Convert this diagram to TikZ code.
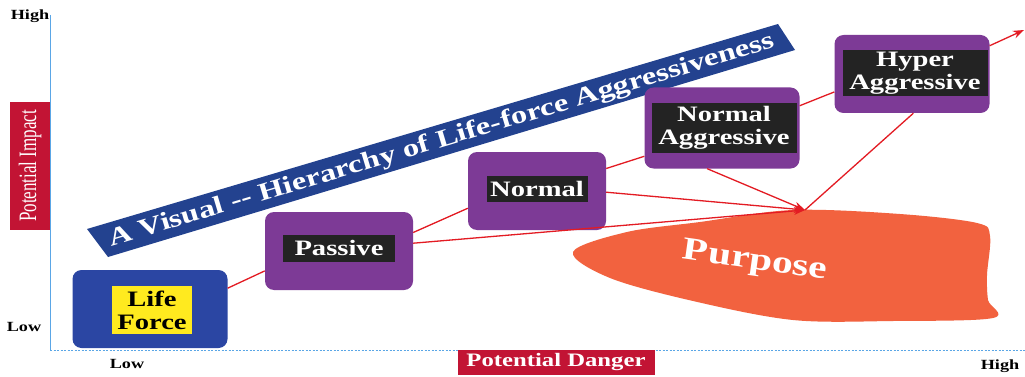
\documentclass[tikz,border=0pt]{standalone}
\usepackage{fontspec}
\setmainfont{Liberation Serif}
\newfontfamily\wf[FakeStretch=1.3]{Liberation Serif}
\newfontfamily\nf[FakeStretch=0.68]{Liberation Serif}
\usetikzlibrary{arrows.meta}
\definecolor{purp}{HTML}{7D3A96}
\definecolor{lfblue}{HTML}{2B46A3}
\definecolor{lfyellow}{HTML}{FFEA1F}
\definecolor{lblk}{HTML}{232323}
\definecolor{bannerblue}{HTML}{23428F}
\definecolor{crim}{HTML}{C21434}
\definecolor{linered}{HTML}{E31B23}
\definecolor{blobred}{HTML}{F2623F}
\definecolor{axisblue}{HTML}{5AA6E6}
\tikzset{
  outerbox/.style={fill=purp, rounded corners=9pt, inner sep=0pt},
  lifebox/.style={fill=lfblue, rounded corners=9pt, inner sep=0pt},
  innerlbl/.style={fill=lblk, text=white, align=center, inner sep=0pt,
    font=\wf\bfseries\fontsize{22}{23}\selectfont},
  conn/.style={draw=linered, line width=1.3pt},
  arr/.style={conn, -{Stealth[length=11pt,width=8pt]}},
  axlbl/.style={inner sep=0pt, font=\wf\bfseries\fontsize{14}{14}\selectfont},
}
\begin{document}
\begin{tikzpicture}[x=1pt,y=-1pt]
\useasboundingbox[fill=white] (0,0) rectangle (1025,377);
% axes
\draw[axisblue, line width=0.9pt] (50,15) -- (50,350);
\draw[axisblue, line width=0.9pt, dash pattern=on 2pt off 1.5pt] (50,350) -- (1025,350);
\node[axlbl] (hightop) at (30,16) {High};
\node[axlbl] (lowleft) at (24,327) {Low};
\node[axlbl] (lowbot) at (127,364) {Low};
\node[axlbl] (highbot) at (1000,366) {High};
\node[fill=crim, text=white, rotate=90, minimum width=128pt, minimum height=40pt, inner sep=0pt,
  font=\nf\fontsize{25}{25}\selectfont] (pimpact) at (30,166) {Potential Impact};
\node[fill=crim, text=white, minimum width=197pt, minimum height=25pt, inner sep=0pt,
  font=\wf\bfseries\fontsize{19}{19}\selectfont] (pdanger) at (556,362) {Potential Danger};
% banner
\fill[bannerblue] (87,229) -- (108,257) -- (795,50) -- (778,24) -- cycle;
\node[text=white, rotate=16.7, inner sep=0pt, font=\wf\bfseries\fontsize{25}{25}\selectfont]
  (title) at (442,141) {A Visual -{}- Hierarchy of Life-force Aggressiveness};
% purpose blob
\fill[blobred] plot[smooth cycle, tension=0.55] coordinates {
  (573,252) (627,232) (700,222) (793,210) (900,214) (977,223) (990,236)
  (987,275) (988,300) (993,318) (893,321) (793,320) (693,301) (610,278)};
\node[text=white, rotate=-8, inner sep=0pt, font=\wf\bfseries\fontsize{32}{32}\selectfont]
  (purpose) at (755,262) {Purpose};
% boxes
\node[lifebox, minimum width=155pt, minimum height=78pt] (lfO) at (150,309) {};
\node[fill=lfyellow, text=black, align=center, inner sep=0pt, minimum width=80pt, minimum height=48pt,
  font=\wf\bfseries\fontsize{22}{23}\selectfont] (lf) at (152,310) {Life\\Force};
\node[outerbox, minimum width=148pt, minimum height=78pt] (psO) at (339,251) {};
\node[innerlbl, minimum width=112pt, minimum height=27pt] (ps) at (339,248) {Passive};
\node[outerbox, minimum width=138pt, minimum height=78pt] (nmO) at (537,191) {};
\node[innerlbl, minimum width=101pt, minimum height=26pt] (nm) at (537,189) {Normal};
\node[outerbox, minimum width=155pt, minimum height=81pt] (naO) at (722,128) {};
\node[innerlbl, minimum width=145pt, minimum height=49pt] (na) at (724,128) {Normal\\Aggressive};
\node[outerbox, minimum width=155pt, minimum height=78pt] (hyO) at (912,74) {};
\node[innerlbl, minimum width=145pt, minimum height=46pt] (hy) at (915,73) {Hyper\\Aggressive};
% connectors
\coordinate (pt) at (805,210);
\coordinate (tr) at (1024,30);
\draw[conn] (lfO.15) -- (psO.195);
\draw[conn] (psO.14) -- (nmO.194);
\draw[conn] (nmO.18) -- (naO.200);
\draw[conn] (naO.16) -- (hyO.193);
\draw[arr] (psO.6) -- (pt);
\draw[arr] (nmO.-1) -- (pt);
\draw[arr] (naO.250) -- (pt);
\draw[conn] (pt) -- (hyO.272);
\draw[arr] (hyO.20) -- (tr);
\end{tikzpicture}
\end{document}
